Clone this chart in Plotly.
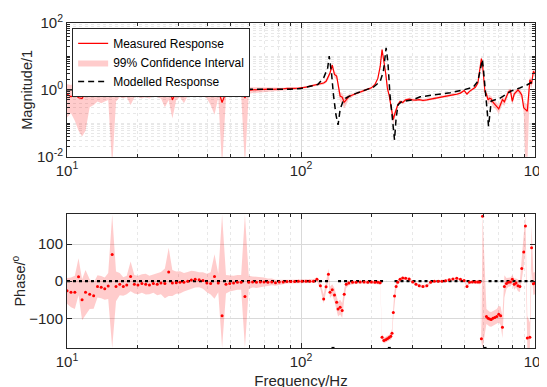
import plotly.graph_objects as go

freq = [10.0, 10.4, 10.8, 11.2, 11.6, 12.0, 12.5, 13.0, 13.5, 14.0,
        14.5, 15.0, 15.6, 16.2, 16.8, 17.4, 18.0, 18.7, 19.4, 20.1,
        20.9, 21.7, 22.5, 23.4, 24.3, 25.2, 26.2, 27.2, 28.2, 29.3,
        30.4, 31.6, 32.8, 34.0, 35.3, 36.7, 38.1, 39.6, 41.1, 42.7,
        44.3, 46.0, 47.8, 49.6, 51.5, 53.5, 55.5, 57.6, 59.8, 62.1,
        64.5, 67.0, 69.5, 72.2, 75.0, 77.8, 80.8, 83.9, 87.1, 90.4,
        93.9, 97.5, 101, 105, 109, 113, 117, 121, 125, 128,
        131, 133, 136, 139, 142, 144, 147, 150, 153, 156,
        160, 166, 172, 179, 186, 193, 200, 207, 213, 218,
        222, 226, 230, 234, 238, 242, 245, 248, 251, 255,
        259, 265, 272, 280, 290, 300, 310, 320, 332, 345,
        358, 372, 386, 400, 415, 430, 446, 463, 480, 498,
        512, 525, 540, 556, 570, 581, 590, 597, 604, 611,
        620, 630, 640, 650, 661, 673, 686, 700, 713, 726,
        740, 755, 770, 785, 800, 815, 830, 846, 862, 878,
        895, 910, 927, 951, 967, 984, 1000]

mag = [0.75, 0.62, 0.72, 0.58, 0.55, 0.85, 0.90, 0.85, 0.90, 0.85,
       0.88, 0.92, 0.85, 0.90, 0.95, 0.90, 0.95, 1.00, 0.90, 0.93,
       0.88, 0.95, 0.90, 0.97, 0.92, 0.95, 1.00, 1.35, 0.50, 0.90,
       0.95, 0.70, 0.95, 0.97, 1.00, 0.95, 0.97, 0.85, 0.97, 1.05,
       0.97, 0.42, 0.85, 0.95, 0.97, 1.00, 1.00, 0.57, 0.97, 1.00,
       1.02, 1.00, 1.03, 1.05, 1.04, 1.07, 1.05, 1.08, 1.10, 1.08,
       1.10, 1.12, 1.13, 1.20, 1.29, 1.35, 1.44, 1.50, 1.60, 1.80,
       2.4, 3.2, 5.5, 2.9, 2.6, 1.4, 0.65, 0.60, 0.42, 0.50,
       0.62, 0.70, 0.78, 0.85, 0.95, 1.05, 1.15, 1.45, 2.2, 5.0,
       16.0, 7.5, 3.2, 1.1, 0.70, 0.35, 0.20, 0.13, 0.18, 0.27,
       0.35, 0.45, 0.42, 0.50, 0.53, 0.50, 0.49, 0.51, 0.48, 0.50,
       0.53, 0.56, 0.59, 0.61, 0.64, 0.68, 0.71, 0.74, 0.80, 0.95,
       0.75, 0.90, 1.05, 1.20, 1.60, 3.5, 8.6, 5.5, 1.8, 0.87,
       0.75, 0.50, 0.56, 0.53, 0.43, 0.38, 0.33, 0.27, 0.37, 0.51,
       0.44, 0.62, 0.87, 0.95, 0.45, 0.75, 0.90, 1.00, 0.85, 0.70,
       0.29, 0.25, 0.23, 2.0, 1.5, 3.6, 3.1]

mag_lo = [0.15, 0.20, 0.12, 0.06, 0.04, 0.06, 0.30, 0.35, 0.45, 0.40,
          0.45, 0.50, 0.005, 0.45, 0.60, 0.55, 0.60, 0.35, 0.60, 0.60,
          0.55, 0.60, 0.55, 0.65, 0.60, 0.55, 0.30, 0.50, 0.14, 0.50,
          0.60, 0.40, 0.65, 0.70, 0.70, 0.70, 0.70, 0.55, 0.35, 0.18,
          0.60, 0.005, 0.60, 0.70, 0.75, 0.75, 0.75, 0.005, 0.75, 0.80,
          0.82, 0.85, 0.88, 0.90, 0.92, 0.95, 0.96, 0.98, 1.00, 1.00,
          1.03, 1.05, 1.06, 1.12, 1.20, 1.25, 1.33, 1.38, 1.45, 1.60,
          2.0, 2.7, 4.6, 2.3, 2.0, 1.0, 0.45, 0.40, 0.28, 0.35,
          0.52, 0.62, 0.72, 0.78, 0.88, 0.97, 1.07, 1.35, 2.05, 4.6,
          14.5, 6.8, 2.8, 0.95, 0.60, 0.28, 0.15, 0.09, 0.13, 0.22,
          0.30, 0.40, 0.37, 0.45, 0.48, 0.45, 0.45, 0.47, 0.44, 0.46,
          0.49, 0.52, 0.55, 0.57, 0.60, 0.64, 0.66, 0.69, 0.75, 0.88,
          0.68, 0.83, 0.98, 1.10, 1.45, 3.2, 7.8, 5.0, 1.5, 0.70,
          0.58, 0.38, 0.43, 0.40, 0.32, 0.28, 0.24, 0.19, 0.27, 0.38,
          0.33, 0.50, 0.72, 0.80, 0.35, 0.60, 0.75, 0.85, 0.68, 0.52,
          0.20, 0.005, 0.005, 1.4, 1.1, 2.8, 2.4]

mag_hi = [1.5, 1.4, 1.6, 1.5, 1.4, 1.7, 1.5, 1.5, 1.5, 1.4,
          1.45, 1.5, 2.2, 1.6, 1.4, 1.35, 1.5, 1.8, 1.3, 1.35,
          1.3, 1.4, 1.35, 1.4, 1.35, 1.5, 1.6, 1.9, 1.3, 1.3,
          1.35, 1.3, 1.35, 1.3, 1.35, 1.3, 1.3, 1.3, 1.6, 2.3,
          1.4, 1.3, 1.25, 1.25, 1.25, 1.3, 1.25, 1.3, 1.2, 1.2,
          1.22, 1.18, 1.18, 1.2, 1.16, 1.18, 1.15, 1.17, 1.18, 1.16,
          1.18, 1.2, 1.2, 1.28, 1.38, 1.45, 1.55, 1.62, 1.75, 2.0,
          2.8, 3.7, 6.4, 3.5, 3.2, 1.8, 0.85, 0.80, 0.58, 0.65,
          0.72, 0.78, 0.85, 0.92, 1.02, 1.13, 1.24, 1.55, 2.35, 5.4,
          17.5, 8.2, 3.6, 1.25, 0.80, 0.42, 0.25, 0.17, 0.23, 0.32,
          0.40, 0.50, 0.47, 0.55, 0.58, 0.55, 0.54, 0.56, 0.53, 0.55,
          0.58, 0.61, 0.64, 0.66, 0.69, 0.73, 0.76, 0.80, 0.86, 1.02,
          0.82, 0.97, 1.12, 1.30, 1.75, 3.8, 9.4, 6.0, 2.1, 1.05,
          0.92, 0.62, 0.69, 0.66, 0.54, 0.48, 0.42, 0.36, 0.48, 0.65,
          0.56, 0.75, 1.02, 1.10, 0.58, 0.90, 1.05, 1.15, 1.02, 0.88,
          0.40, 0.40, 0.38, 2.6, 2.0, 4.4, 3.8]

phase = [-26, -30, -30, 12, -50, -30, -35, -39, -14, -16,
         -20, -13, 72, -14, -8, -14, -10, 13, -8, -10,
         -6, -8, -10, -6, -8, -5, -6, 25, -5, -4,
         -3, -3, 0, 3, 5, 4, 2, -5, -6, 13,
         -5, -93, -8, -6, -5, -3, -3, -41, -3, -2,
         -3, -2, -2, -3, -2, -4, -2, -2, -1, -1,
         -1, 0, 0, 0, 0, 0, 5, -12, -48, -15,
         19, -30, -23, -37, -57, -75, -70, -79, -35, -8,
         -5, -3, -3, -2, -2, -3, -2, -3, -3, -4,
         -151, -160, -158, -155, -152, -148, -140, -84, -40, -14,
         -3, 5, 9, 8, 6, -2, -8, -12, -14, -12,
         -3, 0, 0, 0, 1, 4, 6, 8, 5, 2,
         -14, -3, -2, -2, -2, -2, -155, 175, None, None,
         -95, -100, -102, -103, -100, -98, -95, -89, -93, -124,
         -14, -6, -3, -2, 5, -8, -5, -12, -14, 34,
         79, 149, -153, -151, 90, -7, -5]

phase_hw = [35, 40, 45, 50, 55, 60, 40, 35, 30, 30,
            30, 35, 260, 40, 30, 25, 25, 40, 25, 25,
            25, 28, 25, 25, 30, 30, 40, 65, 35, 30,
            30, 25, 25, 25, 22, 20, 22, 25, 30, 60,
            25, 300, 25, 22, 20, 20, 20, 300, 18, 15,
            15, 13, 12, 10, 9, 8, 7, 6, 5, 5,
            4, 4, 4, 4, 4, 5, 6, 8, 12, 12,
            15, 15, 15, 18, 18, 20, 20, 20, 15, 10,
            6, 5, 4, 4, 4, 4, 4, 4, 5, 6,
            8, 8, 8, 8, 8, 10, 12, 15, 15, 10,
            6, 5, 4, 4, 4, 4, 4, 4, 4, 4,
            4, 3, 3, 3, 3, 3, 3, 3, 3, 4,
            5, 4, 4, 4, 5, 6, 10, 360, 30, 30,
            20, 20, 20, 20, 20, 20, 20, 22, 25, 30,
            30, 15, 12, 12, 12, 15, 12, 15, 15, 30,
            40, 60, 60, 40, 60, 30, 30]

# ---------------- modelled response ----------------
freq_model = [10, 30, 60, 90, 100, 110, 118, 125, 130, 132, 135, 137.6, 141, 144,
              147, 152, 160, 173, 191, 204, 218, 225, 231, 235, 240, 247, 251, 255,
              260, 270, 300, 323, 366, 434, 495, 545, 570, 587, 596, 603, 612, 621,
              633, 641, 650, 707, 755, 793, 860, 923, 985, 1000]
mag_model = [1.0, 1.0, 1.0, 1.05, 1.1, 1.3, 1.45, 2.3, 4.5, 10.2, 3.2, 0.72, 0.18, 0.09,
             0.26, 0.51, 0.64, 0.8, 1.0, 1.2, 1.8, 3.6, 18.0, 7.2, 0.72, 0.073, 0.032, 0.145,
             0.36, 0.45, 0.5, 0.62, 0.69, 0.82, 1.0, 1.2, 1.8, 4.5, 8.1, 3.6, 1.1, 0.29,
             0.082, 0.18, 0.46, 0.56, 0.76, 0.93, 1.14, 1.4, 1.8, 1.9]
phase_model = [0, 0, 0, 0, 0, 0, 0, 0, 0, 0, -180, -180, -180, 0,
               0, 0, 0, 0, 0, 0, 0, 0, 0, -180, -180, -180, 0, 0,
               0, 0, 0, 0, 0, 0, 0, 0, 0, 0, 0, -180, -180, -180,
               0, 0, 0, 0, 0, 0, 0, 0, 0, 0]

# ---------------- styles ----------------
RED = "#ff0000"
BAND = "rgba(255,0,0,0.2)"
AX = "#262626"
GRID = "#d9d9d9"
MINOR = "#e8e8e8"
FONT = "Liberation Sans, Arial, sans-serif"

# phase band (skip points without a measured value, clip to axis range)
pb_f, pb_lo, pb_hi = [], [], []
for f, p, w in zip(freq, phase, phase_hw):
    if p is None:
        continue
    pb_f.append(f)
    pb_lo.append(max(-180, p - w))
    pb_hi.append(min(180, p + w))

# modelled phase as dotted segments, broken at jumps
pm_f, pm_y = [], []
prev = None
for f, p in zip(freq_model, phase_model):
    if prev is not None and abs(p - prev) > 90:
        pm_f.append(None)
        pm_y.append(None)
    pm_f.append(f)
    pm_y.append(p)
    prev = p

fig = go.Figure()

# --- magnitude ---
fig.add_trace(go.Scatter(x=freq, y=mag, mode="lines", line=dict(color=RED, width=1.2),
                         name="Measured Response", xaxis="x", yaxis="y"))
fig.add_trace(go.Scatter(x=freq, y=mag_lo, mode="lines", line=dict(width=0, color=BAND),
                         showlegend=False, hoverinfo="skip", xaxis="x", yaxis="y"))
fig.add_trace(go.Scatter(x=freq, y=mag_hi, mode="lines", line=dict(width=0, color=BAND),
                         fill="tonexty", fillcolor=BAND, name="99% Confidence Interval",
                         xaxis="x", yaxis="y"))
fig.add_trace(go.Scatter(x=freq_model, y=mag_model, mode="lines",
                         line=dict(color="black", width=1.5, dash="6px,4px"),
                         name="Modelled Response", xaxis="x", yaxis="y"))

# --- phase ---
fig.add_trace(go.Scatter(x=pb_f, y=pb_lo, mode="lines", line=dict(width=0, color=BAND),
                         showlegend=False, hoverinfo="skip", xaxis="x2", yaxis="y2"))
fig.add_trace(go.Scatter(x=pb_f, y=pb_hi, mode="lines", line=dict(width=0, color=BAND),
                         fill="tonexty", fillcolor=BAND, showlegend=False,
                         xaxis="x2", yaxis="y2"))
fig.add_trace(go.Scatter(x=pm_f, y=pm_y, mode="lines", connectgaps=False,
                         line=dict(color="black", width=2.2, dash="dot"),
                         showlegend=False, xaxis="x2", yaxis="y2"))
fig.add_trace(go.Scatter(x=freq, y=phase, mode="markers",
                         marker=dict(color=RED, size=3),
                         showlegend=False, xaxis="x2", yaxis="y2"))

minor_x = [k * 10 ** n for n in (1, 2) for k in range(2, 10)]
minor_y = [k * 10.0 ** n for n in (-2, -1, 0, 1) for k in range(1, 10) if not (k == 1 and n in (-2, 0))]

def sup(e):
    return "10<sup>%d</sup>" % e

xcommon = dict(type="log", range=[1, 3], tickvals=[10, 100, 1000],
               ticktext=[sup(1), sup(2), sup(3)], ticks="inside", ticklen=5,
               tickcolor=AX, showline=True, linecolor=AX, linewidth=1, mirror="ticks",
               showgrid=True, gridcolor=GRID, gridwidth=1, zeroline=False,
               automargin=False, ticklabeloverflow="allow",
               tickfont=dict(size=15, color=AX),
               minor=dict(tickvals=minor_x, ticks="inside", ticklen=3, tickcolor=AX,
                          showgrid=True, gridcolor=MINOR, griddash="dot"))

fig.update_layout(
    width=547, height=387,
    margin=dict(l=59, r=20, t=15, b=47, autoexpand=False),
    paper_bgcolor="white", plot_bgcolor="white",
    font=dict(family=FONT, size=14, color=AX),
    showlegend=True,
    legend=dict(x=0.011, y=0.985, xanchor="left", yanchor="top",
                bgcolor="white", bordercolor=AX, borderwidth=1,
                font=dict(size=12, color="black"), itemwidth=30,
                tracegroupgap=0, traceorder="normal"),
    xaxis=dict(domain=[0, 1], anchor="y", **xcommon),
    yaxis=dict(domain=[0.5886, 1], anchor="x", type="log", range=[-2, 2],
               tickvals=[0.01, 1, 100], ticktext=[sup(-2), sup(0), sup(2)],
               ticks="inside", ticklen=5, tickcolor=AX, showline=True, linecolor=AX,
               linewidth=1, mirror="ticks", showgrid=True, gridcolor=GRID, zeroline=False,
               automargin=False, ticklabeloverflow="allow",
               tickfont=dict(size=15, color=AX),
               title=dict(text="Magnitude/1", font=dict(size=14.5), standoff=0),
               minor=dict(tickvals=minor_y, ticks="inside", ticklen=3, tickcolor=AX,
                          showgrid=True, gridcolor=MINOR, griddash="dot")),
    xaxis2=dict(domain=[0, 1], anchor="y2",
                title=dict(text="Frequency/Hz", font=dict(size=15), standoff=6),
                **xcommon),
    yaxis2=dict(domain=[0, 0.411], anchor="x2", range=[-180, 180],
                tickvals=[-100, 0, 100], ticks="inside", ticklen=5, tickcolor=AX,
                showline=True, linecolor=AX, linewidth=1, mirror="ticks",
                showgrid=True, gridcolor=GRID, zeroline=False,
                automargin=False, ticklabeloverflow="allow",
                tickfont=dict(size=15, color=AX),
                title=dict(text="Phase/<sup>o</sup>", font=dict(size=14.5), standoff=0)),
)

fig.write_html("out.html")
